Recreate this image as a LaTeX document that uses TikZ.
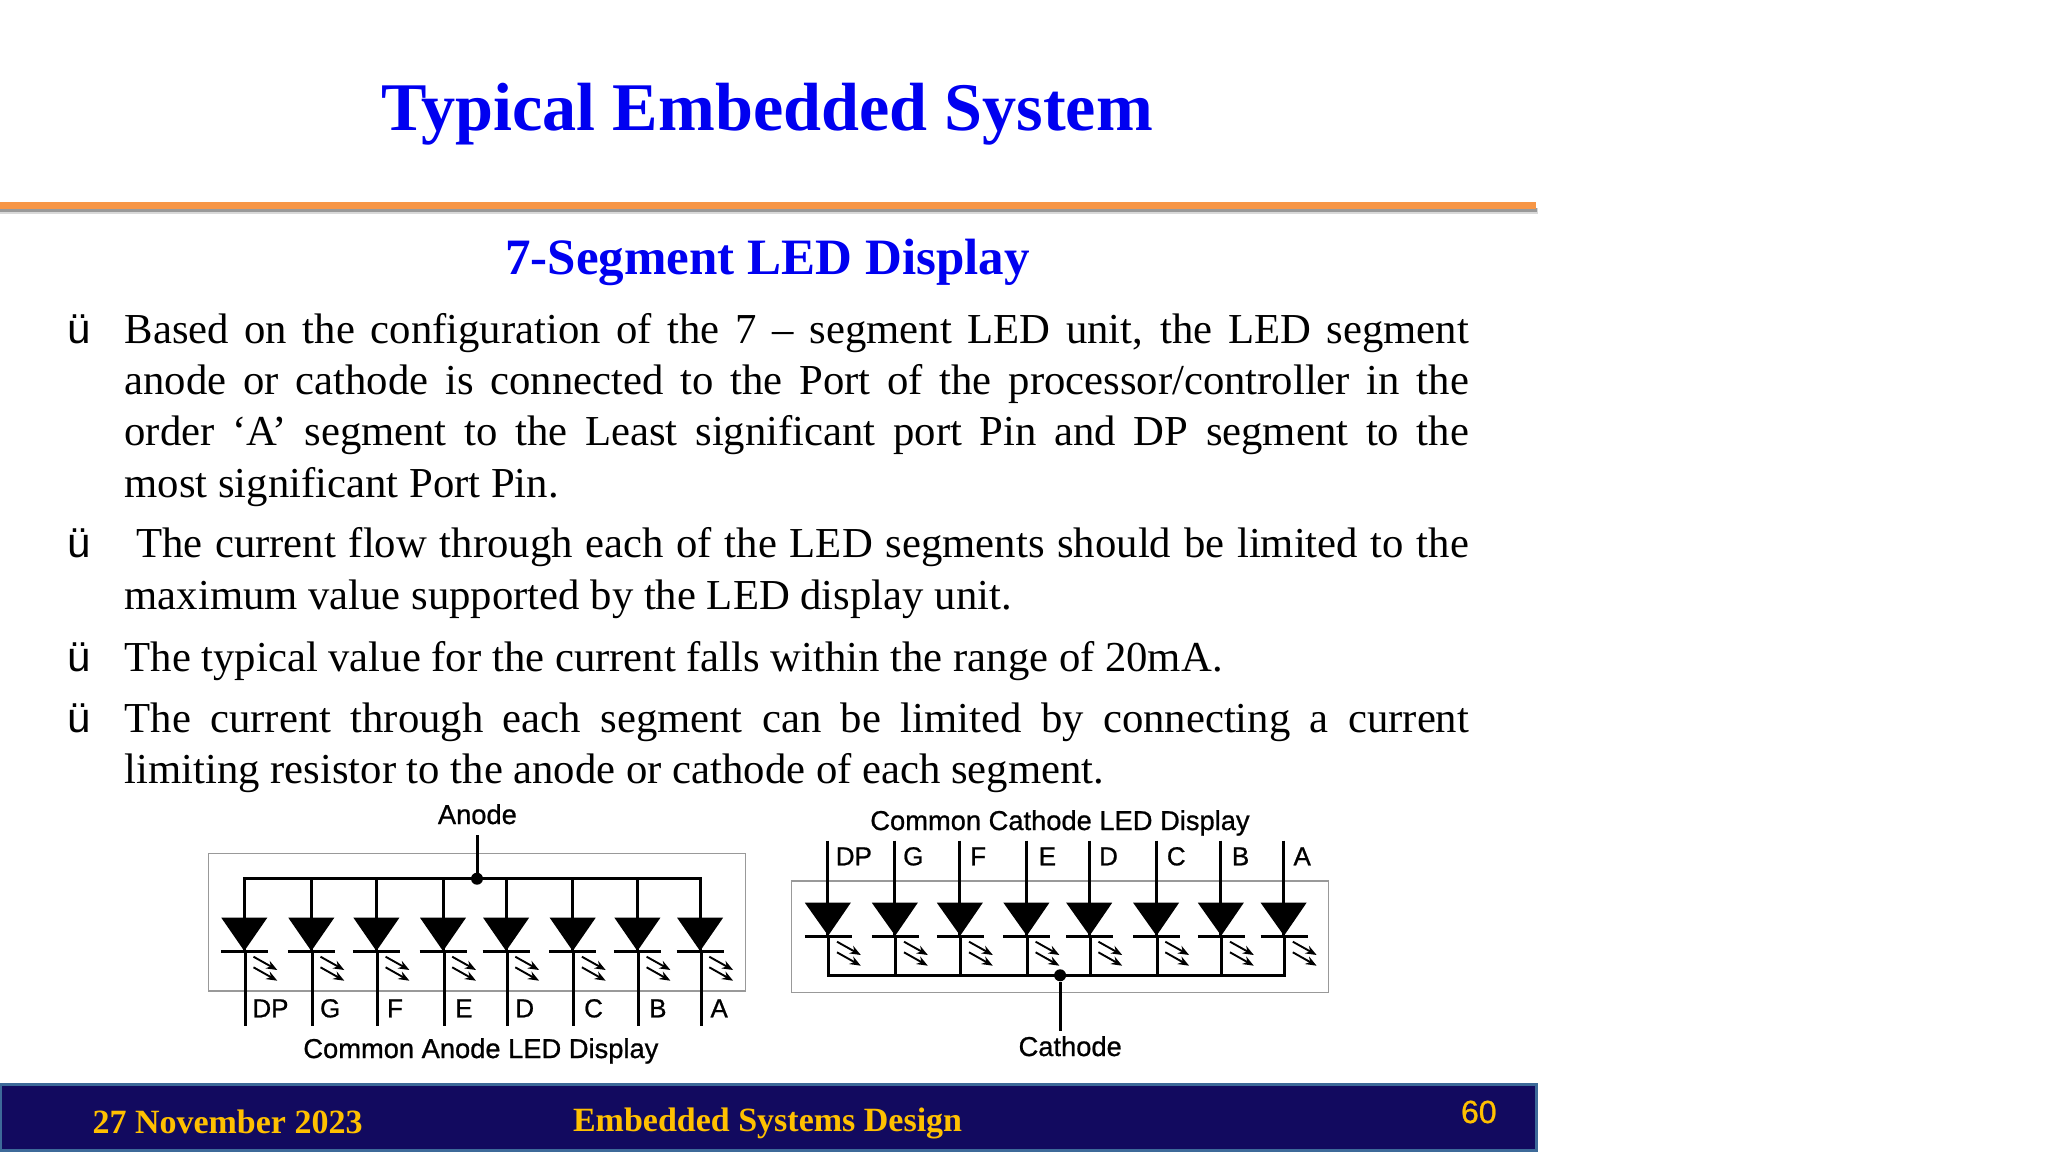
\documentclass[tikz,border=0pt]{standalone}
\usepackage{fontspec}
\setmainfont{Liberation Serif}
\newfontfamily\arialf{Liberation Sans}
\newfontfamily\arialh[FakeBold=0.8]{Liberation Sans}
\usetikzlibrary{arrows.meta}
\definecolor{titleblue}{HTML}{0000F0}
\definecolor{barorange}{HTML}{F79646}
\definecolor{footfill}{HTML}{120A5F}
\definecolor{footline}{HTML}{3D6A99}
\definecolor{footgold}{HTML}{FFC000}
\tikzset{
  lbl/.style={inner sep=0pt,outer sep=0pt,anchor=base west},
  ctr/.style={inner sep=0pt,outer sep=0pt,anchor=base},
  maintitle/.style={ctr,text=titleblue,font=\fontsize{68.2}{80}\selectfont\bfseries},
  subtitle/.style={ctr,text=titleblue,font=\fontsize{51}{60}\selectfont\bfseries},
  body/.style={lbl,font=\fontsize{42.7}{50}\selectfont},
  bul/.style={lbl,font=\arialf\fontsize{42}{50}\selectfont},
  foot/.style={lbl,text=footgold,font=\fontsize{34}{40}\selectfont\bfseries},
  pagenum/.style={lbl,text=footgold,font=\arialh\fontsize{32}{38}\selectfont},
  seglab/.style={lbl,font=\arialh\fontsize{26}{30}\selectfont},
  caplab/.style={ctr,font=\arialh\fontsize{27.3}{32}\selectfont},
  wire/.style={line width=3pt,black},
  pkg/.style={draw=black!40,line width=1.2pt},
  ray/.style={line width=1.9pt,-{Stealth[length=11pt,width=8.5pt]}},
  junction/.style={circle,fill=black,inner sep=0pt,minimum size=12pt},
}
\newcommand{\jline}[3]{\node[body] (#1) at (124.6,#2) {\makebox[1344.4pt][s]{#3}};}
\begin{document}
\begin{tikzpicture}[x=1pt,y=-1pt]
\useasboundingbox (0,0) rectangle (2048,1152);
% header
\node[maintitle] (title) at (767,130) {Typical Embedded System};
\fill[black!15] (0,208) rectangle (1538,213.5);
\fill[black!40] (0,208) rectangle (1537,211.5);
\fill[barorange] (0,201.7) rectangle (1536,209);
\node[subtitle] (sub) at (767.5,274) {7-Segment LED Display};
% bullets
\node[bul] (b1) at (67,343) {ü};
\node[bul] (b2) at (67,557) {ü};
\node[bul] (b3) at (67,671) {ü};
\node[bul] (b4) at (67,732) {ü};
\jline{l1}{343}{Based on the configuration of the 7 – segment LED unit, the LED segment}
\jline{l2}{394}{anode or cathode is connected to the Port of the processor/controller in the}
\jline{l3}{445}{order ‘A’ segment to the Least significant port Pin and DP segment to the}
\node[body] (l4) at (124.6,497) {most significant Port Pin.};
\node[body] (l5) at (136,557.5) {\makebox[1333pt][s]{The current flow through each of the LED segments should be limited to the}};
\node[body] (l6) at (124.6,609.5) {maximum value supported by the LED display unit.};
\node[body] (l7) at (124.6,671) {The typical value for the current falls within the range of 20mA.};
\jline{l8}{732}{The current through each segment can be limited by connecting a current}
\node[body] (l9) at (124.6,783) {limiting resistor to the anode or cathode of each segment.};
% common anode
\draw[pkg] (208.4,853.3) rectangle (745.7,991);
\coordinate (abusL) at (242.8,878.7);
\coordinate (abusR) at (701.6,878.7);
\foreach \n/\x/\lx/\t in {1/244.3/252.4/DP,2/311.3/320.1/G,3/376.4/387.1/F,4/443/455.2/E,5/506.1/515.3/D,6/572.7/584.2/C,7/637.4/649.2/B,8/700.1/710.5/A}{
  \coordinate (at\n) at (\x,878.7);
  \coordinate (am\n) at (\x,951.7);
  \coordinate (an\n) at (\x+1,951.7);
  \coordinate (ab\n) at (\x+1,1026);
  \fill (\x-23,917.7) -- (\x+23,917.7) -- (\x,951) -- cycle;
  \draw[wire] (\x-23.5,951.7) -- (\x+23.5,951.7);
  \draw[wire] (at\n) -- (am\n);
  \draw[wire] (an\n) -- (ab\n);
  \draw[ray] (\x+9.2,956.7) -- (\x+33,970);
  \draw[ray] (\x+9.2,967.3) -- (\x+33,980.7);
  \node[seglab] (al\n) at (\lx,1017.3) {\t};
}
\draw[wire] (abusL) -- (abusR);
\node[junction] (ajunc) at (477,878.7) {};
\coordinate (astem) at (477,835);
\draw[wire] (astem) -- (ajunc);
\node[caplab] (anode) at (477.4,824) {Anode};
\node[caplab] (acap) at (480.9,1058) {Common Anode LED Display};
% common cathode
\draw[pkg] (791.4,881) rectangle (1328.7,992.7);
\coordinate (cbusL) at (827.3,975.3);
\coordinate (cbusR) at (1286.1,975.3);
\foreach \n/\x/\lx/\t in {1/827.8/835.8/DP,2/894.8/903.2/G,3/959.8/970.2/F,4/1026.4/1038.7/E,5/1089.2/1099.1/D,6/1156.1/1166.9/C,7/1220.8/1231.9/B,8/1283.6/1293.5/A}{
  \coordinate (ct\n) at (\x,840.7);
  \coordinate (cm\n) at (\x,936.3);
  \coordinate (cn\n) at (\x+1,936.3);
  \coordinate (cb\n) at (\x+1,975.3);
  \fill (\x-23,902.7) -- (\x+23,902.7) -- (\x+0.4,935.7) -- cycle;
  \draw[wire] (\x-23,936.3) -- (\x+24,936.3);
  \draw[wire] (ct\n) -- (cm\n);
  \draw[wire] (cn\n) -- (cb\n);
  \draw[ray] (\x+9.2,941.7) -- (\x+33,955);
  \draw[ray] (\x+9.2,952.3) -- (\x+33,965.7);
  \node[seglab] (cl\n) at (\lx,865.3) {\t};
}
\draw[wire] (cbusL) -- (cbusR);
\node[junction] (cjunc) at (1060.1,975.3) {};
\coordinate (cstem) at (1060.1,1031.3);
\draw[wire] (cjunc) -- (cstem);
\node[caplab] (ccap) at (1060,830) {Common Cathode LED Display};
\node[caplab] (cath) at (1070.2,1056) {Cathode};
% footer
\draw[footline,fill=footfill,line width=3pt] (0,1084.5) rectangle (1536,1150);
\node[foot] (date) at (92.5,1133.2) {27 November 2023};
\node[foot] (course) at (573,1131.7) {Embedded Systems Design};
\node[pagenum] (page) at (1461,1123) {60};
\end{tikzpicture}
\end{document}
